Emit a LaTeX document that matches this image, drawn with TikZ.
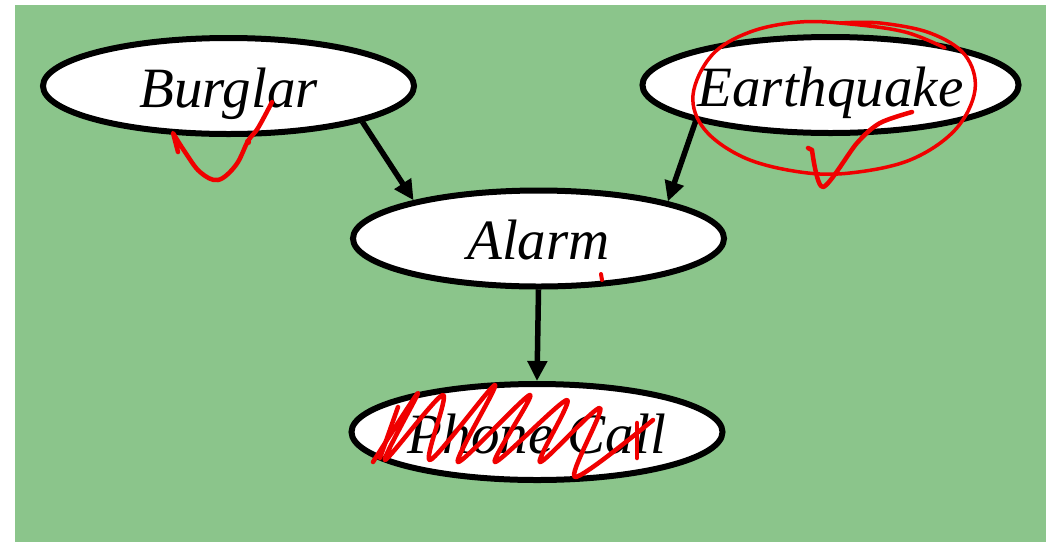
\documentclass[tikz,border=0pt]{standalone}
\usepackage{fontspec}
\setmainfont{Liberation Serif}
\usetikzlibrary{arrows.meta, shapes.geometric}
\definecolor{bggreen}{HTML}{8BC58B}
\definecolor{penred}{HTML}{F00000}

\begin{document}
\begin{tikzpicture}[x=1pt, y=-1pt, >={Triangle[length=20pt, width=19pt]}]

\tikzset{
  var/.style={ellipse, draw=black, fill=white, line width=6pt,
    minimum width=371pt, minimum height=96pt, inner sep=0pt,
    text height=42pt, text depth=0pt,
    font=\fontsize{57}{60}\selectfont\itshape},
  link/.style={->, line width=5.5pt},
  scribble/.style={penred, line width=4.5pt, line cap=round, line join=round}
}

% Background
\useasboundingbox (0,0) rectangle (1046,542);
\fill[bggreen] (15,5) rectangle (1046,542);

% Variables
\node[var] (burglar) at (228.5,86) {Burglar};
\node[var] (quake) at (830.5,85) {Earthquake};
\node[var] (alarm) at (538.5,238.5) {Alarm};
\node[var] (call) at (537,432) {Phone Call};

% Links
\draw[link] (burglar.-15.5) -- (alarm.163.7);
\draw[link] (quake.195.7) -- (alarm.16.6);
\draw[link] (alarm.south) -- (call.north);

% Pen marks on Burglar
\draw[scribble] plot[smooth, tension=0.6] coordinates
  {(272,102) (258,128) (248,141) (236,165) (218,180) (200,172) (185,152) (173,133)}
  -- (178,152);
\fill[penred] (248,142) circle (3.2);

% Pen marks on Earthquake
\draw[scribble, line width=3.5pt] plot[smooth, tension=0.6] coordinates
  {(945,48) (905,32) (850,24) (800,22) (750,32) (712,55) (693,95) (705,130)
   (745,158) (800,172) (850,173) (910,160) (955,130) (975,90) (965,55)
   (930,33) (880,23) (840,23)};
\draw[scribble] (808,148) -- (812,150)
  plot[smooth, tension=0.5] coordinates {(812,150) (823,187) (857,143) (880,123) (912,112)};

% Pen mark on Alarm
\draw[scribble, line width=4pt] (601,274) -- (602,280);

% Pen marks on Phone Call
\draw[scribble] plot[smooth, tension=0.5] coordinates
  {(373,462) (418,393) (385,460) (443,395) (430,460) (495,385) (458,462)
   (530,395) (495,462) (567,400) (540,462) (600,408) (575,477) (653,420)};
\draw[scribble] (398,407) -- (380,458);
\draw[scribble] (637,423) -- (637,458);

\end{tikzpicture}
\end{document}
